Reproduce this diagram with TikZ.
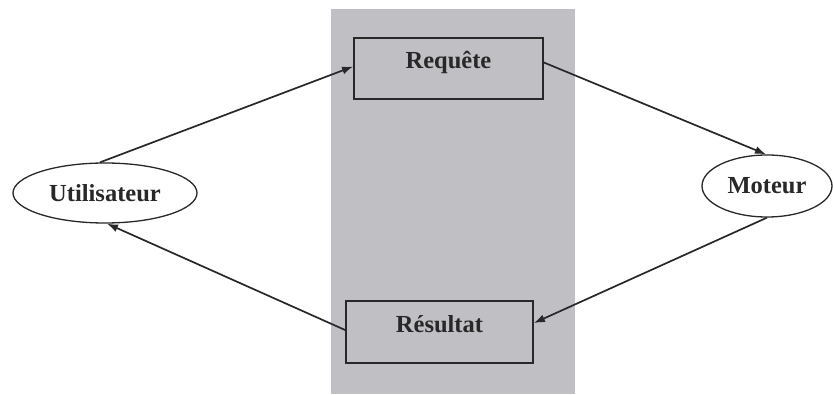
\documentclass[tikz,border=0pt]{standalone}
\usepackage{fontspec}
\setmainfont{Liberation Serif}
\usetikzlibrary{arrows.meta,shapes.geometric}
\definecolor{panel}{RGB}{192,192,196}
\definecolor{ink}{RGB}{40,40,40}
\begin{document}
\begin{tikzpicture}[x=1pt,y=1pt,
  lbl/.style={font=\fontsize{24.5}{30}\selectfont\bfseries, text=ink},
  boxnode/.style={lbl, draw=ink, line width=1.8pt, minimum width=189pt, minimum height=61pt, inner sep=0pt, text height=17pt, text depth=17pt},
  ellnode/.style={lbl, draw=ink, line width=1.3pt, fill=white, ellipse, inner sep=0pt},
  conn/.style={draw=ink, line width=1.7pt, -{Latex[length=11pt,width=8pt]}}]
\useasboundingbox (0,0) rectangle (833,394);
\fill[white] (0,0) rectangle (833,394);
\fill[panel] (331,0) rectangle (575,385);
\node[boxnode] (req) at (448.5,325.5) {Requête};
\node[boxnode, minimum width=187pt, minimum height=62pt] (res) at (439.5,62) {Résultat};
\node[ellnode, minimum width=184pt, minimum height=60pt] (util) at (105,201) {Utilisateur};
\node[ellnode, minimum width=130pt, minimum height=62pt] (mot) at (767,208) {Moteur};
\draw[conn] ([xshift=-5pt]util.north) -- ([yshift=2pt]req.west);
\draw[conn] ([yshift=6pt]req.east) -- ([xshift=-1pt]mot.north);
\draw[conn] (mot.south) -- ([yshift=9pt]res.east);
\draw[conn] ([yshift=2pt]res.west) -- ([xshift=2pt]util.south);
\end{tikzpicture}
\end{document}
